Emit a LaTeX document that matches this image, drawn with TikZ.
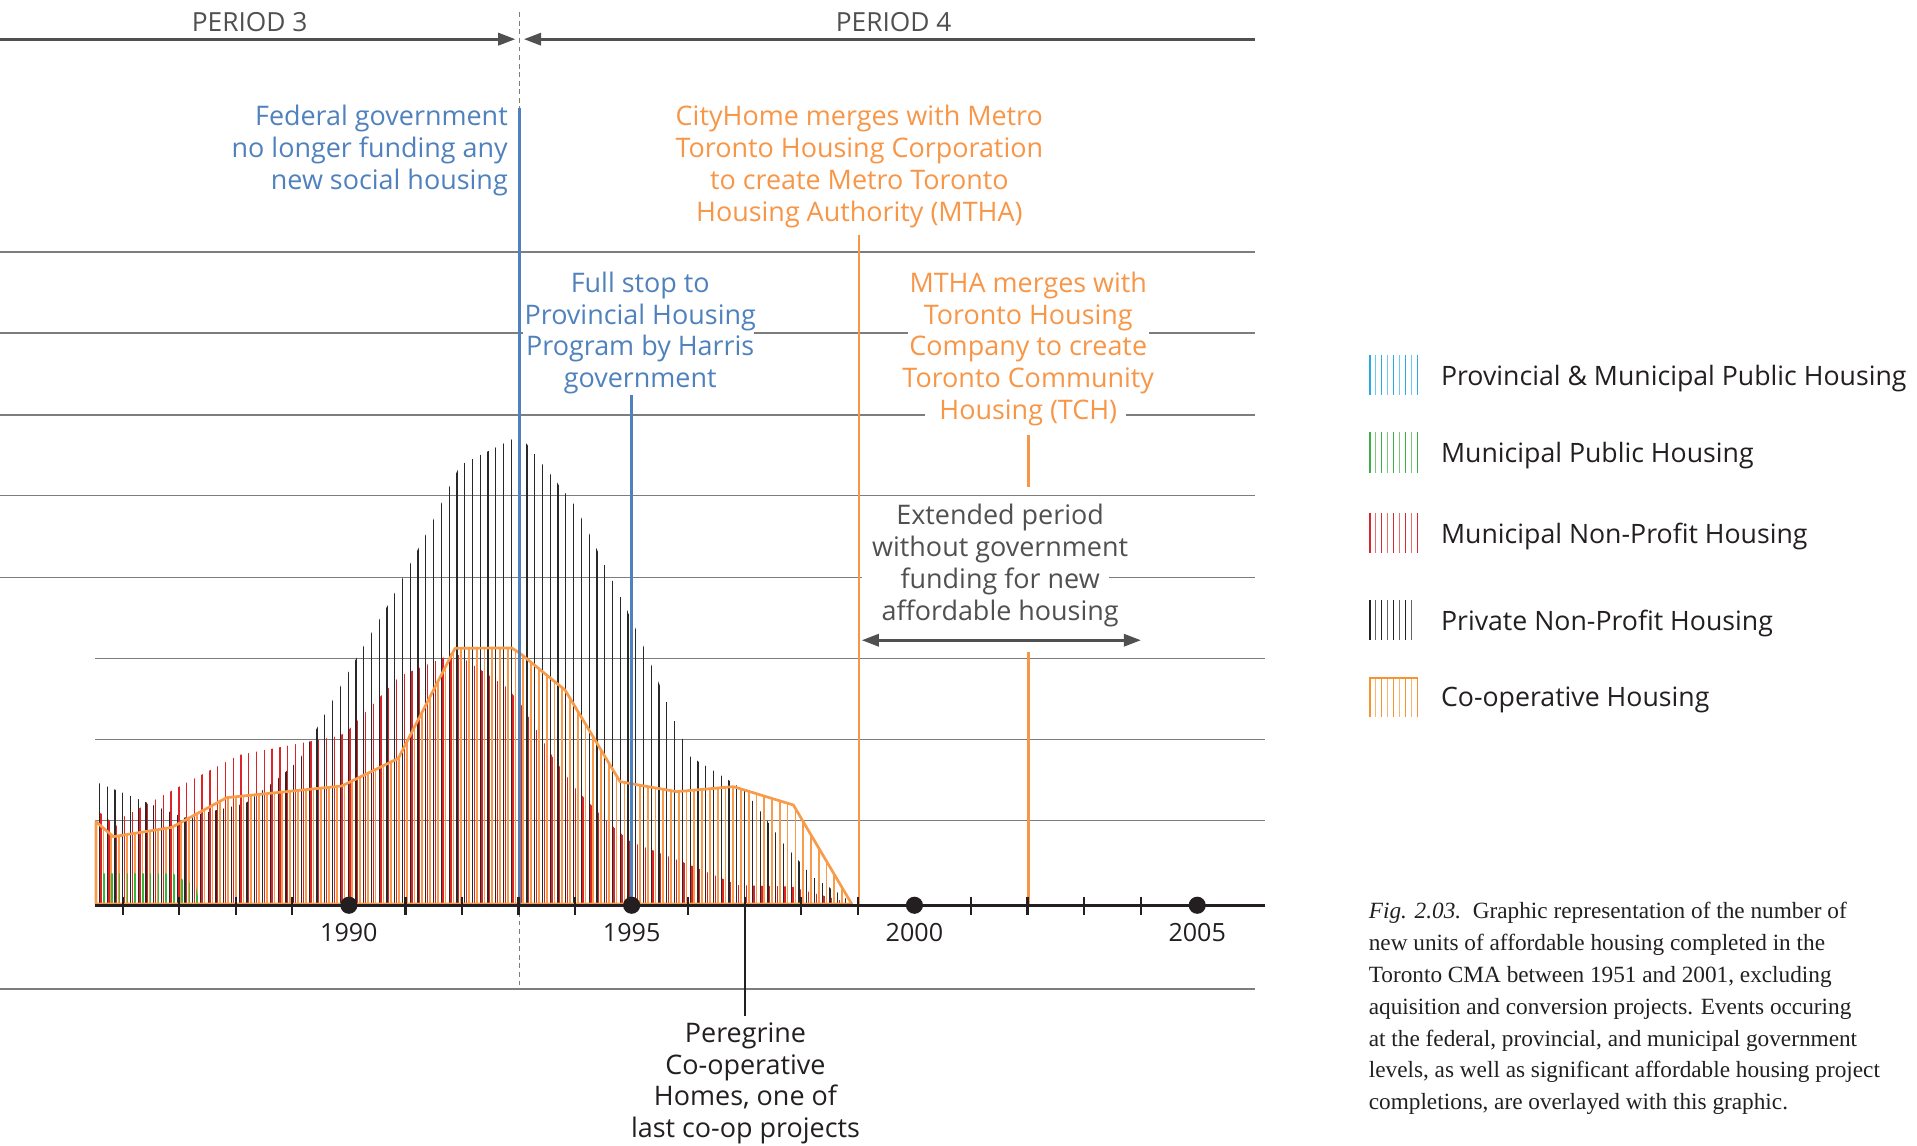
\documentclass[tikz,border=0pt]{standalone}
\usepackage{fontspec}
\setmainfont{Open Sans}
\newfontfamily\capfont{Liberation Serif}
\usetikzlibrary{arrows.meta}
\definecolor{annblue}{RGB}{79,129,189}
\definecolor{annorange}{RGB}{247,150,70}
\definecolor{txtgray}{RGB}{80,80,80}
\definecolor{gridgray}{RGB}{125,125,125}
\definecolor{barblack}{RGB}{40,40,40}
\definecolor{barred}{RGB}{222,35,40}
\definecolor{bargreen}{RGB}{50,185,60}
\definecolor{barorange}{RGB}{248,155,75}
\definecolor{legblue}{RGB}{41,171,226}
\definecolor{legbluel}{RGB}{110,200,240}
\definecolor{leggreen}{RGB}{60,175,70}
\definecolor{leggreenl}{RGB}{125,200,120}
\definecolor{legred}{RGB}{215,40,47}
\definecolor{legredl}{RGB}{230,110,110}
\definecolor{legblack}{RGB}{35,35,35}
\definecolor{legblackl}{RGB}{100,100,100}
\definecolor{legorange}{RGB}{247,148,50}
\definecolor{legorangel}{RGB}{250,180,120}
\definecolor{inkblack}{RGB}{35,31,32}
\newcommand\annfont{\fontsize{22}{26}\selectfont}
\newcommand\legfont{\fontsize{21.8}{26}\selectfont}
\tikzset{
  gridline/.style={draw=gridgray,line width=1.1pt},
  annblueline/.style={draw=annblue,line width=2pt},
  annorangeline/.style={draw=annorange,line width=2pt},
  blackbar/.style={draw=barblack,line width=1pt},
  redbar/.style={draw=barred,line width=1.1pt},
  greenbar/.style={draw=bargreen,line width=1.3pt},
  orangebar/.style={draw=barorange,line width=1.4pt},
  blueann/.style={text=annblue,font=\annfont,inner sep=0pt},
  orangeann/.style={text=annorange,font=\annfont,inner sep=0pt,align=center},
  grayann/.style={text=txtgray,font=\annfont,inner sep=0pt,align=center},
  yearlabel/.style={text=inkblack,font=\fontsize{20.5}{24}\selectfont,inner sep=0pt},
  periodlabel/.style={text=txtgray,font=\fontsize{21.5}{24}\selectfont,inner sep=0pt},
  legtext/.style={text=inkblack,font=\legfont,inner sep=0pt,anchor=west},
  tipbig/.tip={Triangle[length=14pt,width=10pt]},
}
\begin{document}
\begin{tikzpicture}[x=1pt,y=-1pt]
\useasboundingbox (0,0) rectangle (1566,936);
% grid lines
\foreach \y in {206,405,808} \draw[gridline] (0,\y) -- (1025,\y);
\draw[gridline] (0,272) -- (427,272);
\draw[gridline] (616,272) -- (742,272);
\draw[gridline] (939,272) -- (1025,272);
\draw[gridline] (0,339) -- (756,339);
\draw[gridline] (920,339) -- (1025,339);
\draw[gridline] (0,472) -- (704,472);
\draw[gridline] (906,472) -- (1025,472);
\foreach \y in {538,604,670} \draw[gridline] (78,\y) -- (1033,\y);
% period arrows
\coordinate (p3a) at (0,32);
\coordinate (p3b) at (421,32);
\coordinate (p4a) at (428,32);
\coordinate (p4b) at (1025,32);
\draw[txtgray,line width=2.2pt,-tipbig] (p3a) -- (p3b);
\draw[txtgray,line width=2.2pt,tipbig-] (p4a) -- (p4b);
\node[periodlabel] (per3) at (204,18) {PERIOD 3};
\node[periodlabel] (per4) at (730,18) {PERIOD 4};
% dashed divider
\coordinate (dv1) at (424.5,10);
\coordinate (dv2) at (424.5,808);
\draw[gridgray,line width=0.9pt,dash pattern=on 4pt off 3pt] (dv1) -- (dv2);
% orange co-op bars
\begin{scope}
\clip (78.4,740) -- (78.4,671.2) -- (92.6,683.5) -- (140.2,675.9) -- (185.2,651.6) -- (279.1,642.1) -- (325.4,619.5) -- (371.7,529.6) -- (418,529.3) -- (424.8,533.7) -- (461.6,563.7) -- (506.5,638.5) -- (517.4,640.5) -- (552.8,646.7) -- (599.1,642.6) -- (648.1,657.6) -- (695.8,737.9) -- cycle;
\foreach \i in {0,...,98} \draw[orangebar] ({84.6+6.35*\i},740) -- ++(0,-400);
\end{scope}
% red bars
\begin{scope}
\clip (80,740) -- (80,664) -- (82.5,664.4) -- (95,674.8) -- (101.3,667.1) -- (151.4,639.9) -- (195.2,616.8) -- (276.7,601.2) -- (282.9,598.2) -- (326.8,552.2) -- (364.3,536.4) -- (370.6,532.3) -- (414.4,561.8) -- (427.3,577.8) -- (452.3,619.5) -- (471.1,645.4) -- (496.2,671.2) -- (515,687.6) -- (552.5,702) -- (602.7,723) -- (646.5,724.3) -- (690.3,736.6) -- (695,740) -- cycle;
\foreach \i in {0,...,98} \draw[redbar] ({82.6+6.35*\i},740) -- ++(0,-400);
\end{scope}
% black bars
\begin{scope}
\clip (79,740) -- (79,639.5) -- (81.2,639.9) -- (150.3,668) -- (200.4,656.3) -- (225.7,637.2) -- (244.5,620.9) -- (257.3,597.7) -- (288.4,542.5) -- (319.7,489.6) -- (351,430.8) -- (369.8,392.1) -- (376.1,379.9) -- (420,358) -- (426.5,358) -- (457.8,397.6) -- (470.3,413.9) -- (482.8,439) -- (489.1,452) -- (501.6,476.5) -- (514.2,502.4) -- (526.7,530.4) -- (539.2,560.4) -- (551.7,590.3) -- (564.3,618.1) -- (608.1,645.4) -- (620.6,661.7) -- (639.4,688.4) -- (664.5,716.7) -- (689.5,732.5) -- (696,740) -- cycle;
\foreach \i in {0,...,98} \draw[blackbar] ({81.2+6.35*\i},740) -- ++(0,-400);
\end{scope}
% green bars
\begin{scope}
\clip (78,740) -- (78,713.4) -- (141.6,713.4) -- (147.7,717.5) -- (160.1,723.8) -- (163,740) -- cycle;
\foreach \i in {0,...,14} \draw[greenbar] ({78.6+6.35*\i},740) -- ++(0,-100);
\end{scope}
% co-op outline
\draw[draw=barorange,line width=2.2pt,line join=round] (78.4,738.5) -- (78.4,671.2) -- (92.6,683.5) -- (140.2,675.9) -- (185.2,651.6) -- (279.1,642.1) -- (325.4,619.5) -- (371.7,529.6) -- (418,529.3) -- (424.8,533.7) -- (461.6,563.7) -- (506.5,638.5) -- (517.4,640.5) -- (552.8,646.7) -- (599.1,642.6) -- (648.1,657.6) -- (695.8,738.5) -- cycle;
% annotation lines
\coordinate (fedtop) at (424.5,88);
\coordinate (fedbot) at (424.5,740);
\draw[annblueline] (fedtop) -- (fedbot);
\coordinate (fsttop) at (516,323);
\coordinate (fstbot) at (516,740);
\draw[annblueline] (fsttop) -- (fstbot);
\coordinate (cthtop) at (701.5,192);
\coordinate (cthbot) at (701.5,740);
\draw[annorangeline] (cthtop) -- (cthbot);
\coordinate (mt1) at (840,355);
\coordinate (mt2) at (840,398);
\coordinate (mt3) at (840,533);
\coordinate (mt4) at (840,740);
\draw[annorangeline] (mt1) -- (mt2);
\draw[annorangeline] (mt3) -- (mt4);
\coordinate (pgtop) at (608.5,740);
\coordinate (pgbot) at (608.5,830);
\draw[inkblack,line width=2pt] (pgtop) -- (pgbot);
% extended arrow
\coordinate (exa) at (704,523);
\coordinate (exb) at (932,523);
\draw[txtgray,line width=2.2pt,tipbig-tipbig] (exa) -- (exb);
% axis
\coordinate (axa) at (78,739.5);
\coordinate (axb) at (1033,739.5);
\draw[inkblack,line width=2.5pt] (axa) -- (axb);
\foreach \yr in {1986,1987,1988,1989,1991,1992,1993,1994,1996,1997,1998,1999,2001,2002,2003,2004}
  \draw[inkblack,line width=1.8pt] ({285+46.2*(\yr-1990)},732.5) -- ++(0,15);
\foreach \yr/\nm in {1990/d90,1995/d95,2000/d00,2005/d05}{
  \fill[inkblack] ({285+46.2*(\yr-1990)},739.5) circle (7pt);
  \node[yearlabel] (\nm) at ({285+46.2*(\yr-1990)},762) {\yr};
}
% annotation texts
\node[blueann,align=right,anchor=east] (fedtxt) at (415,123) {Federal government\\no longer funding any\\new social housing};
\node[orangeann] (cthtxt) at (702,136) {CityHome merges with Metro\\Toronto Housing Corporation\\to create Metro Toronto\\Housing Authority (MTHA)};
\node[blueann,align=center] (fsttxt) at (523,272) {Full stop to\\Provincial Housing\\Program by Harris\\government};
\node[orangeann] (mthtxt) at (840,285) {MTHA merges with\\Toronto Housing\\Company to create\\Toronto Community\\Housing (TCH)};
\node[grayann] (exttxt) at (817,462) {Extended period\\without government\\funding for new\\affordable housing};
\node[grayann,text=inkblack] (pgtxt) at (609,885) {Peregrine\\Co-operative\\Homes, one of\\last co-op projects};
% legend
\foreach \i in {0,...,8}{
  \pgfmathsetmacro\xx{1119+4.9*\i}
  \ifodd\i \def\cb{legbluel}\def\cg{leggreenl}\def\cr{legredl}\def\co{legorangel}\else \def\cb{legblue}\def\cg{leggreen}\def\cr{legred}\def\co{legorange}\fi
  \draw[\cb,line width=1.1pt] (\xx,290) -- (\xx,323);
  \draw[\cg,line width=1.1pt] (\xx,353) -- (\xx,386);
  \draw[\cr,line width=1.1pt] (\xx,419) -- (\xx,452);
  \draw[\co,line width=1.1pt] (\xx,553) -- (\xx,586);
}
\foreach \i in {0,...,7}{
  \pgfmathsetmacro\xx{1119+4.9*\i}
  \ifodd\i \def\ck{legblackl}\else \def\ck{legblack}\fi
  \draw[\ck,line width=1.1pt] (\xx,490) -- (\xx,523);
}
\draw[legorange,line width=1.6pt] (1118.5,553.8) -- (1158.7,553.8);
\node[legtext] (lg1) at (1177,309) {Provincial \& Municipal Public Housing};
\node[legtext] (lg2) at (1177,372) {Municipal Public Housing};
\node[legtext] (lg3) at (1177,438) {Municipal Non-Profit Housing};
\node[legtext] (lg4) at (1177,509) {Private Non-Profit Housing};
\node[legtext] (lg5) at (1177,572) {Co-operative Housing};
% caption
\node[anchor=north west,align=left,inner sep=0pt,text=inkblack,font=\capfont\fontsize{19}{26}\selectfont] (cap) at (1118,737) {\textit{Fig. 2.03.}\ \ Graphic representation of the number of\\new units of affordable housing completed in the\\Toronto CMA between 1951 and 2001, excluding\\aquisition and conversion projects. Events occuring\\at the federal, provincial, and municipal government\\levels, as well as significant affordable housing project\\completions, are overlayed with this graphic.};
\end{tikzpicture}
\end{document}
